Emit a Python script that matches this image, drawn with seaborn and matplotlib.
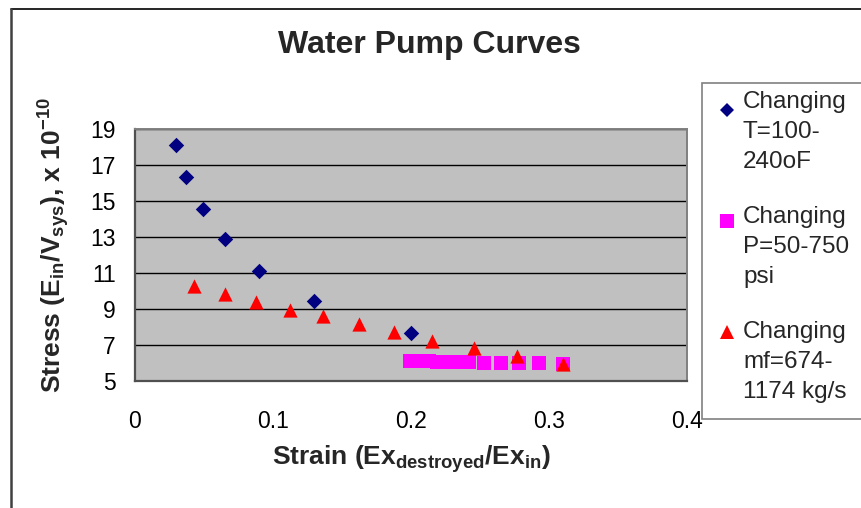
import numpy as np
import pandas as pd
import matplotlib
matplotlib.use("Agg")
import matplotlib.pyplot as plt
from matplotlib.lines import Line2D
from matplotlib.patches import Rectangle
import seaborn as sns

# Series: strain (x) and stress x 1e-10 (y)
temp_strain = [0.030, 0.037, 0.049, 0.065, 0.090, 0.130, 0.200]
temp_stress = [18.12, 16.32, 14.55, 12.88, 11.10, 9.42, 7.66]

press_strain = [0.199, 0.203, 0.208, 0.213, 0.219, 0.225, 0.231, 0.237, 0.242,
                0.253, 0.265, 0.278, 0.2925, 0.310]
press_stress = [6.10, 6.10, 6.09, 6.09, 6.08, 6.08, 6.07, 6.07, 6.06,
                6.00, 5.99, 5.99, 5.98, 5.97]

flow_strain = [0.043, 0.065, 0.088, 0.112, 0.136, 0.162, 0.188, 0.2155, 0.246, 0.2766, 0.310]
flow_stress = [10.30, 9.85, 9.39, 8.92, 8.59, 8.14, 7.70, 7.25, 6.82, 6.40, 5.95]

series_labels = ["Changing\nT=100-\n240oF",
                 "Changing\nP=50-750\npsi",
                 "Changing\nmf=674-\n1174 kg/s"]
series_colors = ["#000080", "#FF00FF", "#FF0000"]
series_markers = ["D", "s", "^"]
series_sizes = [62, 95, 105]

x_ticks = [0, 0.1, 0.2, 0.3, 0.4]
x_tick_labels = ["0", "0.1", "0.2", "0.3", "0.4"]
y_ticks = [5, 7, 9, 11, 13, 15, 17, 19]

sns.set_style("white")
plt.rcParams["font.family"] = ["Liberation Sans", "DejaVu Sans"]
plt.rcParams["mathtext.fontset"] = "custom"
plt.rcParams["mathtext.rm"] = "Liberation Sans"
plt.rcParams["mathtext.bf"] = "Liberation Sans:bold"
plt.rcParams["mathtext.it"] = "Liberation Sans:italic"

W, H = 862, 508
fig = plt.figure(figsize=(W / 100, H / 100), dpi=100)
fig.patch.set_facecolor("white")


def fx(px):
    return px / W


def fy(py):
    return 1 - py / H


ax = fig.add_axes([fx(135), fy(381), fx(687) - fx(135), fy(129) - fy(381)])
ax.set_facecolor("#C0C0C0")

frames = [
    pd.DataFrame({"strain": temp_strain, "stress": temp_stress}),
    pd.DataFrame({"strain": press_strain, "stress": press_stress}),
    pd.DataFrame({"strain": flow_strain, "stress": flow_stress}),
]
for df, col, mk, sz in zip(frames, series_colors, series_markers, series_sizes):
    sns.scatterplot(data=df, x="strain", y="stress", ax=ax, color=col,
                    marker=mk, s=sz, linewidth=0, zorder=3, legend=False)

ax.set_xlim(0, 0.4)
ax.set_ylim(5, 19)
ax.set_xticks(x_ticks)
ax.set_xticklabels(x_tick_labels)
ax.set_yticks(y_ticks)
ax.set_yticklabels([str(v) for v in y_ticks])

ax.set_axisbelow(True)
ax.yaxis.grid(True, color="black", linewidth=1.0)
ax.xaxis.grid(False)

for side in ["left", "bottom"]:
    ax.spines[side].set_color("#505050")
    ax.spines[side].set_linewidth(1.6)
for side in ["right", "top"]:
    ax.spines[side].set_color("#808080")
    ax.spines[side].set_linewidth(1.4)

ax.tick_params(axis="both", which="major", direction="out", length=6,
               width=1.4, color="#505050", labelsize=16.5, labelcolor="black")
ax.tick_params(axis="y", pad=8)
ax.tick_params(axis="x", pad=15)

ax.set_xlabel(r"Strain (Ex$_{\mathbf{destroyed}}$/Ex$_{\mathbf{in}}$)",
              fontsize=19, fontweight="bold", labelpad=7)
ax.set_ylabel(r"Stress (E$_{\mathbf{in}}$/V$_{\mathbf{sys}}$), x 10$^{\mathbf{-10}}$",
              fontsize=19, fontweight="bold", labelpad=13)
ax.yaxis.label.set_y(0.54)

fig.text(fx(429), fy(45), "Water Pump Curves", fontsize=23, fontweight="bold",
         ha="center", va="center")

# Chart frame (top and left edges)
fig.add_artist(Line2D([fx(11), fx(870)], [fy(9), fy(9)], color="black", lw=1.2))
fig.add_artist(Line2D([fx(11), fx(11)], [fy(9), fy(520)], color="#404040", lw=1.8))

# Legend box with entries
fig.add_artist(Rectangle((fx(702), fy(419)), fx(880) - fx(702), fy(83) - fy(419),
                         facecolor="white", edgecolor="#808080", lw=1.2))
marker_y = [110, 221, 332]
text_baseline = [108, 223, 338]
for lbl, col, mk, my, tb in zip(series_labels, series_colors, series_markers,
                                marker_y, text_baseline):
    msize = 7.5 if mk == "D" else 9.5
    fig.add_artist(Line2D([fx(727)], [fy(my)], marker=mk, color=col,
                          markersize=msize, markeredgewidth=0, linestyle="none"))
    for i, line in enumerate(lbl.split("\n")):
        fig.text(fx(743), fy(tb + 30 * i), line, fontsize=17.5, ha="left",
                 va="baseline")

fig.savefig("out.png", dpi=100)
